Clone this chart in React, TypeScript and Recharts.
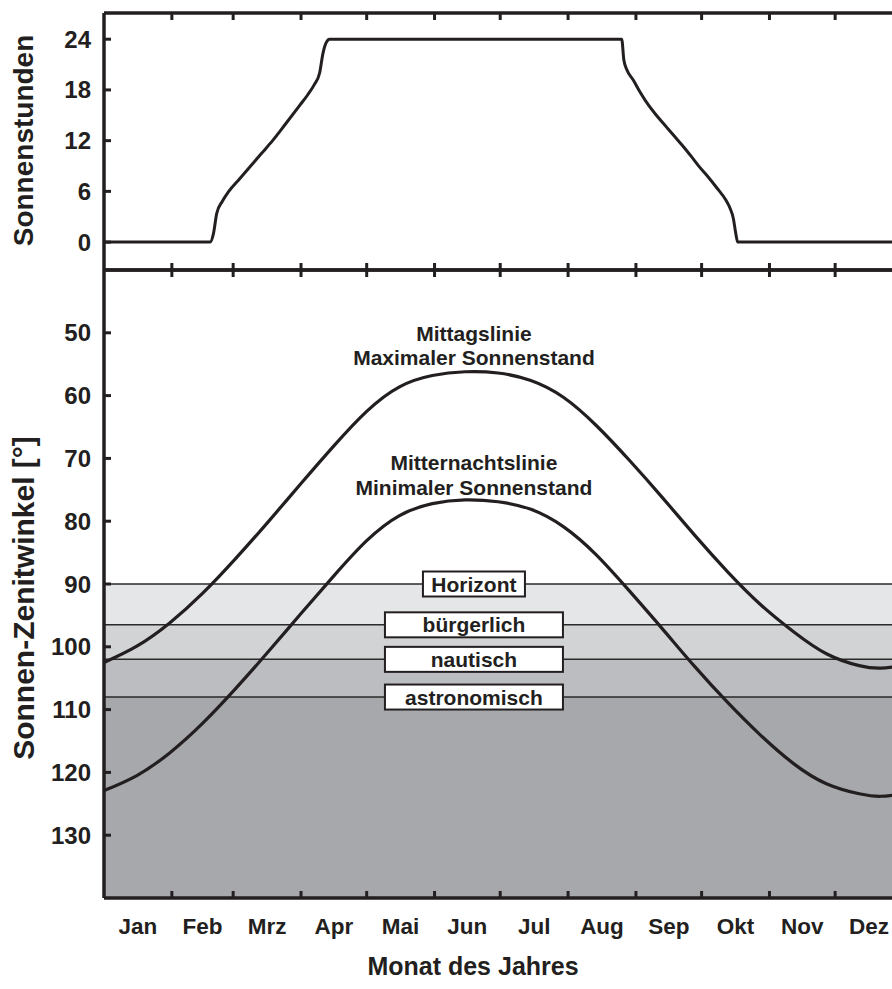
import { LineChart, Line, XAxis, YAxis, ReferenceArea, ReferenceLine, ReferenceDot } from 'recharts';

const monthNames = ['Jan', 'Feb', 'Mrz', 'Apr', 'Mai', 'Jun', 'Jul', 'Aug', 'Sep', 'Okt', 'Nov', 'Dez'];
const monthStarts = [0, 31, 59, 90, 120, 151, 181, 212, 243, 273, 304, 334, 365];

// Sonnenstunden (oberes Feld)
const sunDays = [0, 48.5, 50, 51.5, 54, 57, 62, 67, 72, 77, 83, 89.5, 93, 96, 98.5, 100, 101.5, 103,
  236.5, 237.5, 239, 241.7, 245, 249, 253, 257, 261, 265, 269, 272, 276, 280, 284, 286, 287.5, 288.5, 289.5, 365];
const sunHours = [0, 0, 1.0, 3.4, 4.8, 6.0, 7.5, 9.0, 10.5, 12.0, 14.0, 16.2, 17.4, 18.6, 20.0, 22.3, 23.6, 24,
  24, 21.5, 20.3, 19.2, 17.7, 16.1, 14.8, 13.6, 12.4, 11.2, 9.9, 8.9, 7.7, 6.4, 5.0, 4.0, 2.8, 1.2, 0, 0];

// Sonnen-Zenitwinkel (unteres Feld)
const zenithDays = [0, 15, 30, 45, 60, 75, 90, 105, 120, 135, 150, 165, 180, 195, 210, 225, 240, 255, 270,
  285, 300, 315, 330, 345, 355, 365];
const noonAngle = [102.5, 99.9, 96.2, 91.5, 86.0, 80.1, 74.0, 68.0, 62.5, 58.6, 56.8, 56.2, 56.4, 57.6, 60.3,
  64.8, 70.3, 76.2, 82.3, 88.1, 93.3, 97.6, 101.1, 103.0, 103.4, 103.0];
const midnightAngle = [122.9, 120.5, 116.9, 112.2, 106.7, 100.8, 94.7, 88.7, 83.1, 79.1, 77.2, 76.6, 76.9, 78.1,
  80.9, 85.4, 91.1, 97.1, 103.2, 108.9, 114.1, 118.6, 121.8, 123.4, 123.8, 123.4];

const twilightNames = ['Horizont', 'bürgerlich', 'nautisch', 'astronomisch'];
const twilightAngles = [90, 96.5, 102, 108, 140];

const sunTicks = [0, 6, 12, 18, 24];
const zenithTicks = [50, 60, 70, 80, 90, 100, 110, 120, 130];

const sunData = sunDays.map((d, i) => ({ day: d, hours: sunHours[i] }));
const zenithData = zenithDays.map((d, i) => ({ day: d, noon: noonAngle[i], midnight: midnightAngle[i] }));

const monthMids = monthNames.map((_, i) => (monthStarts[i] + monthStarts[i + 1]) / 2);
const innerStarts = monthStarts.slice(1, -1);
const bottomTicks = [...innerStarts, ...monthMids].sort((a, b) => a - b);

const INK = '#231f20';
const FONT = '"Liberation Sans", Arial, Helvetica, sans-serif';
const BAND_FILLS = ['#e5e6e8', '#d2d3d5', '#bcbdc0', '#a7a8ab'];
const CHART_W = 903;
const AXIS_W = 104;
const LABEL_DAY = 169;
const axisLine = { stroke: INK, strokeWidth: 3.5 };

const borderTick = (dir: number) => (props: any) => {
  const { x, y } = props;
  return <line x1={x} x2={x} y1={y} y2={y + dir * 7} stroke={INK} strokeWidth={3} />;
};

const YTick = (props: any) => {
  const { x, y, payload } = props;
  return (
    <g>
      <line x1={x} x2={x + 7} y1={y} y2={y} stroke={INK} strokeWidth={3} />
      <text x={x - 13} y={y} dy={8.5} textAnchor="end" fontFamily={FONT} fontWeight="bold" fontSize={24} fill={INK}>
        {payload.value}
      </text>
    </g>
  );
};

const MonthTick = (props: any) => {
  const { x, y, payload } = props;
  const i = monthMids.indexOf(payload.value);
  if (i < 0) return <line x1={x} x2={x} y1={y} y2={y - 7} stroke={INK} strokeWidth={3} />;
  return (
    <text x={x} y={y + 36} textAnchor="middle" fontFamily={FONT} fontWeight="bold" fontSize={22.5} fill={INK}>
      {monthNames[i]}
    </text>
  );
};

const yTitle = (text: string, shift: number, size: number) => (props: any) => {
  const vb = props.viewBox;
  const cx = vb.x + 23;
  const cy = vb.y + vb.height / 2 + shift;
  return (
    <text x={cx} y={cy} transform={`rotate(-90 ${cx} ${cy})`} textAnchor="middle" dominantBaseline="central"
      fontFamily={FONT} fontWeight="bold" fontSize={size} fill={INK}>
      {text}
    </text>
  );
};

const xTitle = (props: any) => {
  const vb = props.viewBox;
  return (
    <text x={473} y={vb.y + 77} textAnchor="middle" fontFamily={FONT} fontWeight="bold" fontSize={25} fill={INK}>
      Monat des Jahres
    </text>
  );
};

const boxLabel = (text: string, w: number) => (props: any) => {
  const { cx, cy } = props;
  return (
    <g>
      <rect x={cx - w / 2} y={cy - 12.5} width={w} height={25} fill="#fff" stroke={INK} strokeWidth={2} />
      <text x={cx} y={cy + 7.5} textAnchor="middle" fontFamily={FONT} fontWeight="bold" fontSize={21} fill={INK}>
        {text}
      </text>
    </g>
  );
};

const noteLabel = (text: string) => (props: any) => {
  const { cx, cy } = props;
  return (
    <text x={cx} y={cy + 7.5} textAnchor="middle" fontFamily={FONT} fontWeight="bold" fontSize={21} fill={INK}>
      {text}
    </text>
  );
};

const notes = [
  { text: 'Mittagslinie', y: 50.1 },
  { text: 'Maximaler Sonnenstand', y: 53.9 },
  { text: 'Mitternachtslinie', y: 70.6 },
  { text: 'Minimaler Sonnenstand', y: 74.6 },
];

export default function App() {
  return (
    <div style={{ position: 'fixed', left: 0, top: 0, width: 892, height: 989, overflow: 'hidden', background: '#fff' }}>
      <div style={{ position: 'absolute', left: 0, top: 0 }}>
        <LineChart width={CHART_W} height={280} data={sunData} margin={{ top: 12, right: 0, bottom: 9, left: 0 }}>
          <Line dataKey="hours" type="monotone" stroke={INK} strokeWidth={3} dot={false} isAnimationActive={false} />
          <XAxis xAxisId="top" orientation="top" dataKey="day" type="number" domain={[0, 365]} ticks={innerStarts}
            interval={0} height={1} tickSize={0} tickMargin={0} tickLine={false} axisLine={axisLine} tick={borderTick(1)} />
          <XAxis dataKey="day" type="number" domain={[0, 365]} ticks={innerStarts} interval={0} height={1}
            tickSize={0} tickMargin={0} tickLine={false} axisLine={axisLine} tick={borderTick(-1)} />
          <YAxis type="number" domain={[-3.3, 27.1]} ticks={sunTicks} interval={0} width={AXIS_W} tickSize={0}
            tickMargin={0} tickLine={false} axisLine={axisLine} tick={YTick}
            label={{ value: 'Sonnenstunden', content: yTitle('Sonnenstunden', -1, 28) }} />
        </LineChart>
      </div>
      <div style={{ position: 'absolute', left: 0, top: 260 }}>
        <LineChart width={CHART_W} height={729} data={zenithData} margin={{ top: 9, right: 0, bottom: 0, left: 0 }}>
          {BAND_FILLS.map((f, i) => (
            <ReferenceArea key={f} y1={twilightAngles[i]} y2={twilightAngles[i + 1]} fill={f} fillOpacity={1}
              stroke="none" />
          ))}
          {twilightNames.map((n, i) => (
            <ReferenceLine key={n} y={twilightAngles[i]} stroke="#2a2a2a" strokeWidth={1.5} />
          ))}
          <Line dataKey="noon" type="natural" stroke={INK} strokeWidth={3.2} dot={false} isAnimationActive={false} />
          <Line dataKey="midnight" type="natural" stroke={INK} strokeWidth={3.2} dot={false} isAnimationActive={false} />
          {twilightNames.map((n, i) => (
            <ReferenceDot key={'b' + n} x={LABEL_DAY} y={twilightAngles[i]} r={0}
              shape={boxLabel(n, i === 0 ? 102 : 178)} />
          ))}
          {notes.map((n) => (
            <ReferenceDot key={n.text} x={LABEL_DAY} y={n.y} r={0} shape={noteLabel(n.text)} />
          ))}
          <XAxis xAxisId="top" orientation="top" dataKey="day" type="number" domain={[0, 365]} ticks={innerStarts}
            interval={0} height={1} tickSize={0} tickMargin={0} tickLine={false} axisLine={axisLine} tick={borderTick(1)} />
          <XAxis dataKey="day" type="number" domain={[0, 365]} ticks={bottomTicks} interval={0} height={91}
            tickSize={0} tickMargin={0} tickLine={false} axisLine={axisLine} tick={MonthTick}
            label={{ value: 'Monat des Jahres', content: xTitle }} />
          <YAxis type="number" domain={[40, 140]} reversed ticks={zenithTicks} interval={0} width={AXIS_W}
            tickSize={0} tickMargin={0} tickLine={false} axisLine={axisLine} tick={YTick}
            label={{ value: 'Sonnen-Zenitwinkel [°]', content: yTitle('Sonnen-Zenitwinkel [°]', 14, 30) }} />
        </LineChart>
      </div>
    </div>
  );
}
